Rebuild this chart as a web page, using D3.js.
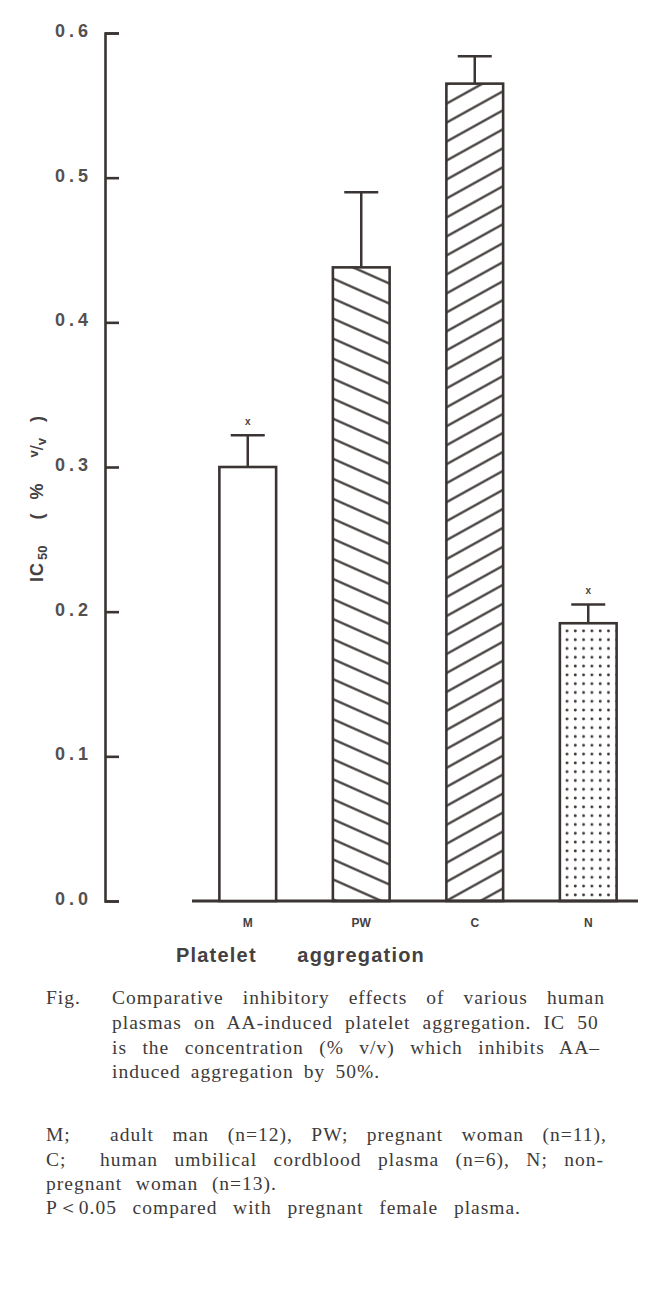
<!DOCTYPE html>
<html>
<head>
<meta charset="utf-8">
<script src="https://cdn.jsdelivr.net/npm/d3@7"></script>
<style>
  body { margin: 0; background: #fff; }
  svg { display: block; }
</style>
</head>
<body>
<svg id="chart" width="650" height="1289"></svg>
<script>
const categories = ['M', 'PW', 'C', 'N']
const means = [0.300, 0.438, 0.565, 0.192]
const errors = [0.022, 0.052, 0.019, 0.013]
const marked = [true, false, false, true]
const fills = ['none', 'hatchBack', 'hatchFwd', 'dots']
const yTicks = [0.0, 0.1, 0.2, 0.3, 0.4, 0.5, 0.6]

const ink = '#3a3533'
const textColor = '#454141'
const sans = '"Liberation Sans", Arial, sans-serif'
const serif = '"Liberation Serif", "Times New Roman", serif'
const svg = d3.select('#chart')

const y = d3.scaleLinear()
	.domain([0, 0.6])
	.range([901, 33])

const x = d3.scaleBand()
	.domain(categories)
	.range([191, 645])
	.paddingInner(0.5)
	.paddingOuter(0.25)

// stretch a line of text to a width by widening the word gaps
const justify = (sel) => {
	sel.each(function (d) {
		const w = d.w
		if (!w) return
		const node = this
		const natural = node.getComputedTextLength()
		const gaps = (d.t.match(/ /g) || []).length
		if (gaps > 0) d3.select(node).style('word-spacing', Math.max(0, (w - natural) / gaps) + 'px')
	})
}

// patterns for the bar fills
const defs = svg.append('defs')

const hatch = (id, angle, gap) => {
	const p = defs.append('pattern')
		.attr('id', id)
		.attr('patternUnits', 'userSpaceOnUse')
		.attr('width', 10)
		.attr('height', gap)
		.attr('patternTransform', `rotate(${angle})`)
	p.append('line')
		.attr('x1', -1).attr('x2', 11)
		.attr('y1', gap / 2).attr('y2', gap / 2)
		.style('stroke', ink)
		.style('stroke-width', 2.2)
}
hatch('hatchBack', 24, 18.3)
hatch('hatchFwd', -29, 16.6)

const dots = defs.append('pattern')
	.attr('id', 'dots')
	.attr('patternUnits', 'userSpaceOnUse')
	.attr('x', 563)
	.attr('y', 627)
	.attr('width', 8.3)
	.attr('height', 8.8)
dots.append('circle')
	.attr('cx', 4).attr('cy', 4)
	.attr('r', 1.45)
	.attr('fill', ink)

// y axis, ticks pointing right, labels moved to the left
const yAxis = d3.axisRight(y)
	.tickValues(yTicks)
	.tickSize(14)
	.tickFormat(d3.format('.1f'))

const yG = svg.append('g')
	.attr('transform', 'translate(105, 0)')
	.call(yAxis)

yG.select('path.domain')
	.style('stroke', ink)
	.style('stroke-width', 2.6)
	.style('fill', 'none')

yG.selectAll('.tick line')
	.style('stroke', ink)
	.style('stroke-width', 2.6)

yG.selectAll('.tick text')
	.attr('x', -13)
	.attr('dy', '0.2em')
	.attr('text-anchor', 'end')
	.style('font-family', sans)
	.style('font-weight', 'bold')
	.style('font-size', '18px')
	.style('letter-spacing', '4px')
	.style('fill', '#555050')

// x axis baseline
svg.append('line')
	.attr('x1', 192).attr('x2', 638)
	.attr('y1', y(0)).attr('y2', y(0))
	.style('stroke', ink)
	.style('stroke-width', 3)

const xAxis = d3.axisBottom(x).tickSize(0).tickPadding(17)
const xG = svg.append('g')
	.attr('transform', `translate(0, ${y(0)})`)
	.call(xAxis)
xG.select('path.domain').remove()
xG.selectAll('.tick text')
	.style('font-family', sans)
	.style('font-weight', 'bold')
	.style('font-size', '12px')
	.style('fill', textColor)

// bars
svg.selectAll('rect.bar')
	.data(categories)
	.enter()
	.append('rect')
	.attr('class', 'bar')
	.attr('x', d => x(d))
	.attr('width', x.bandwidth())
	.attr('y', (d, i) => y(means[i]))
	.attr('height', (d, i) => y(0) - y(means[i]))
	.attr('fill', (d, i) => fills[i] === 'none' ? '#fff' : `url(#${fills[i]})`)
	.style('stroke', ink)
	.style('stroke-width', 2.6)

// error bars
const capW = 34
const err = svg.selectAll('g.err')
	.data(categories)
	.enter()
	.append('g')
	.attr('class', 'err')
	.style('stroke', ink)
	.style('stroke-width', 2.5)

err.append('line')
	.attr('x1', d => x(d) + x.bandwidth() / 2)
	.attr('x2', d => x(d) + x.bandwidth() / 2)
	.attr('y1', (d, i) => y(means[i]))
	.attr('y2', (d, i) => y(means[i] + errors[i]))

err.append('line')
	.attr('x1', d => x(d) + x.bandwidth() / 2 - capW / 2)
	.attr('x2', d => x(d) + x.bandwidth() / 2 + capW / 2)
	.attr('y1', (d, i) => y(means[i] + errors[i]))
	.attr('y2', (d, i) => y(means[i] + errors[i]))

// significance marks
svg.selectAll('text.sig')
	.data(categories.filter((d, i) => marked[i]))
	.enter()
	.append('text')
	.attr('class', 'sig')
	.attr('x', d => x(d) + x.bandwidth() / 2)
	.attr('y', d => y(means[categories.indexOf(d)] + errors[categories.indexOf(d)]) - 10)
	.attr('text-anchor', 'middle')
	.style('font-family', sans)
	.style('font-size', '10px')
	.style('font-weight', 'bold')
	.style('fill', textColor)
	.text('x')

// y axis title
const yTitle = svg.append('text')
	.attr('transform', 'translate(43, 582) rotate(-90)')
	.style('font-family', sans)
	.style('font-size', '18px')
	.style('font-weight', 'bold')
	.style('fill', textColor)
yTitle.append('tspan').style('letter-spacing', '1px').text('IC')
yTitle.append('tspan').attr('dx', 2).attr('dy', 4).style('font-size', '13px').text('50')
yTitle.append('tspan').attr('dy', -4).attr('dx', 26).text('(')
yTitle.append('tspan').attr('dx', 14).text('%')
yTitle.append('tspan').attr('dx', 26).attr('dy', -5).style('font-size', '13px').text('v')
yTitle.append('tspan').attr('dy', 5).style('font-weight', 'normal').text('/')
yTitle.append('tspan').attr('dy', 3).style('font-size', '13px').text('v')
yTitle.append('tspan').attr('dy', -3).attr('dx', 16).text(')')

// x axis title
svg.append('text')
	.datum({ t: 'Platelet aggregation', w: 249 })
	.attr('x', 176)
	.attr('y', 962)
	.style('font-family', sans)
	.style('font-size', '20px')
	.style('font-weight', 'bold')
	.style('letter-spacing', '1.2px')
	.style('fill', textColor)
	.text(d => d.t)
	.call(justify)

// caption, serif, word gaps widened to the measured line widths
const caption = [
	{ t: 'Fig.', x: 46, y: 1004, w: null },
	{ t: 'Comparative inhibitory effects of various human', x: 112, y: 1004, w: 493 },
	{ t: 'plasmas on AA-induced platelet aggregation.  IC 50', x: 112, y: 1029, w: 493 },
	{ t: 'is the concentration (% v/v) which inhibits AA\u2013', x: 112, y: 1054, w: 488 },
	{ t: 'induced aggregation by 50%.', x: 112, y: 1078, w: 268 },
	{ t: 'M;', x: 46, y: 1141, w: null },
	{ t: 'adult man (n=12), PW; pregnant woman (n=11),', x: 110, y: 1141, w: 497 },
	{ t: 'C;', x: 46, y: 1166, w: null },
	{ t: 'human umbilical cordblood plasma (n=6), N; non-', x: 100, y: 1166, w: 504 },
	{ t: 'pregnant woman (n=13).', x: 46, y: 1190, w: 231 },
	{ t: 'P\uFF1C0.05 compared with pregnant female plasma.', x: 46, y: 1214, w: 475 }
]

svg.selectAll('text.cap')
	.data(caption)
	.enter()
	.append('text')
	.attr('class', 'cap')
	.attr('x', d => d.x)
	.attr('y', d => d.y)
	.style('font-family', serif)
	.style('font-size', '19.5px')
	.style('letter-spacing', '1px')
	.style('fill', '#3d3a3a')
	.text(d => d.t)
	.call(justify)
</script>
</body>
</html>
